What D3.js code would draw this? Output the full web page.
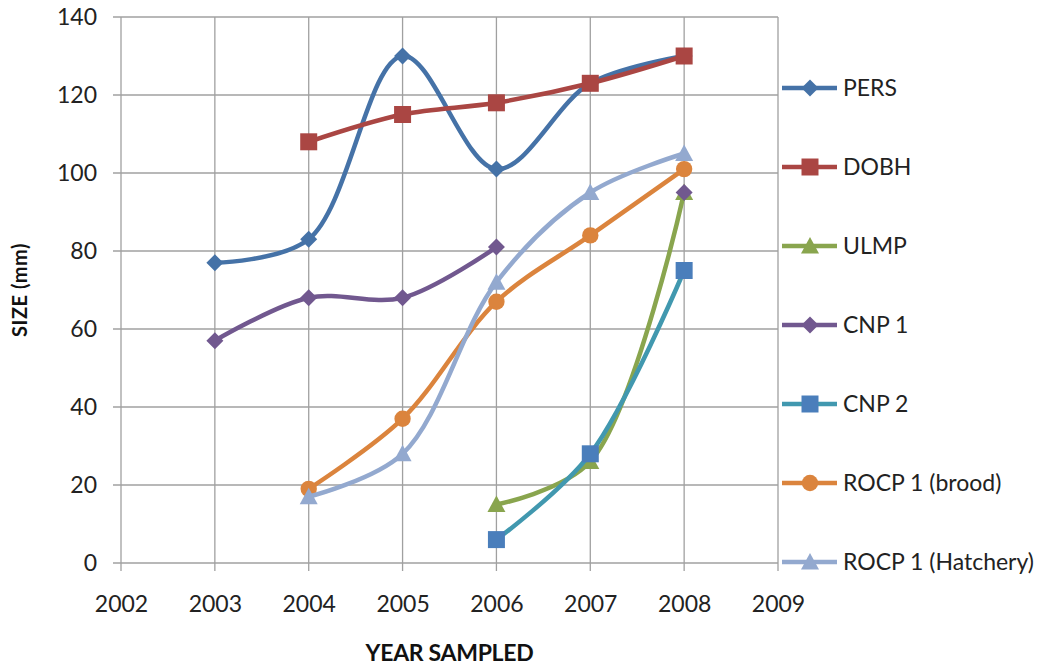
<!DOCTYPE html>
<html>
<head>
<meta charset="utf-8">
<script src="https://cdn.jsdelivr.net/npm/d3@7"></script>
<style>
  html, body { margin: 0; padding: 0; background: #fff; }
  svg { display: block; font-family: Lato, "Open Sans", sans-serif; }
</style>
</head>
<body>
<svg id="chart" width="1042" height="668"></svg>
<script>
// Sample years and sizes (mm) per site; null = not sampled
const years = [2003, 2004, 2005, 2006, 2007, 2008];
const pers      = [77, 83, 130, 101, 123, 130];
const dobh      = [null, 108, 115, 118, 123, 130];
const ulmp      = [null, null, null, 15, 26, 95];
const cnp1      = [57, 68, 68, 81, null, 95];
const cnp2      = [null, null, null, 6, 28, 75];
const rocpBrood = [null, 19, 37, 67, 84, 101];
const rocpHatch = [null, 17, 28, 72, 95, 105];

const xTicks = [2002, 2003, 2004, 2005, 2006, 2007, 2008, 2009];
const yTicks = [0, 20, 40, 60, 80, 100, 120, 140];

const series = [
  { name: "PERS",               values: pers,      line: "#4572A7", fill: "#4572A7", shape: "diamond" },
  { name: "DOBH",               values: dobh,      line: "#AA4643", fill: "#AA4643", shape: "square" },
  { name: "ULMP",               values: ulmp,      line: "#89A54E", fill: "#89A54E", shape: "triangle" },
  { name: "CNP 1",              values: cnp1,      line: "#71588F", fill: "#71588F", shape: "diamond" },
  { name: "CNP 2",              values: cnp2,      line: "#4198AF", fill: "#4A7EBB", shape: "square" },
  { name: "ROCP 1 (brood)",     values: rocpBrood, line: "#DB843D", fill: "#DB843D", shape: "circle" },
  { name: "ROCP 1 (Hatchery)",  values: rocpHatch, line: "#93A9CF", fill: "#93A9CF", shape: "triangle" }
];

const svg = d3.select("#chart");
const plot = { left: 121, right: 778, top: 17, bottom: 563 };

const x = d3.scaleLinear().domain([2002, 2009]).range([plot.left, plot.right]);
const y = d3.scaleLinear().domain([0, 140]).range([plot.bottom, plot.top]);

const gridColor = "#a0a0a0";

// Gridlines (with short tick stubs past the axes)
const grid = svg.append("g");
grid.selectAll("line.h").data(yTicks).join("line")
  .attr("x1", plot.left - 8).attr("x2", plot.right)
  .attr("y1", d => y(d)).attr("y2", d => y(d))
  .attr("stroke", gridColor).attr("stroke-width", 1.3);
grid.selectAll("line.v").data(xTicks).join("line")
  .attr("x1", d => x(d)).attr("x2", d => x(d))
  .attr("y1", plot.top).attr("y2", plot.bottom + 8)
  .attr("stroke", gridColor).attr("stroke-width", 1.3);

// Axis labels (axis lines come from the grid)
const yAxis = svg.append("g")
  .attr("transform", `translate(${plot.left - 8},0)`)
  .call(d3.axisLeft(y).tickValues(yTicks).tickSize(0).tickPadding(16));
yAxis.select(".domain").remove();
yAxis.selectAll("text").attr("font-size", 23).attr("fill", "#222")
  .attr("font-family", "Lato, sans-serif");

const xAxis = svg.append("g")
  .attr("transform", `translate(0,${plot.bottom + 8})`)
  .call(d3.axisBottom(x).tickValues(xTicks).tickFormat(d3.format("d")).tickSize(0).tickPadding(25));
xAxis.select(".domain").remove();
xAxis.selectAll("text").attr("font-size", 23).attr("fill", "#222")
  .attr("font-family", "Lato, sans-serif");

// Axis titles
svg.append("text")
  .attr("x", (plot.left + plot.right) / 2).attr("y", 661)
  .attr("text-anchor", "middle").attr("font-weight", "bold")
  .attr("font-size", 23).attr("fill", "#111")
  .attr("letter-spacing", -0.3)
  .text("YEAR SAMPLED");
svg.append("text")
  .attr("transform", `translate(27,${(plot.top + plot.bottom) / 2}) rotate(-90)`)
  .attr("text-anchor", "middle").attr("font-weight", "bold")
  .attr("font-size", 20).attr("fill", "#111")
  .attr("letter-spacing", 0.5)
  .text("SIZE (mm)");

// Marker shapes
function markerPath(shape) {
  switch (shape) {
    case "diamond":  return "M0,-8.5L8.5,0L0,8.5L-8.5,0Z";
    case "square":   return "M-8.5,-8.5H8.5V8.5H-8.5Z";
    case "triangle": return "M0,-9L9,7.5H-9Z";
    default:         return d3.symbol(d3.symbolCircle, 210)();
  }
}

const line = d3.line()
  .defined(d => d.v != null)
  .x(d => x(d.year))
  .y(d => y(d.v))
  .curve(d3.curveCatmullRom.alpha(0.5));

const marks = svg.append("g");
series.forEach(s => {
  const pts = years.map((yr, i) => ({ year: yr, v: s.values[i] }));
  marks.append("path")
    .attr("d", line(pts))
    .attr("fill", "none")
    .attr("stroke", s.line)
    .attr("stroke-width", 4.5)
    .attr("stroke-linejoin", "round")
    .attr("stroke-linecap", "round");
  marks.append("g").selectAll("path")
    .data(pts.filter(d => d.v != null))
    .join("path")
    .attr("transform", d => `translate(${x(d.year)},${y(d.v)})`)
    .attr("d", markerPath(s.shape))
    .attr("fill", s.fill);
});

// Legend
const legend = svg.append("g");
const legendTop = 88, legendStep = 79;
series.forEach((s, i) => {
  const g = legend.append("g").attr("transform", `translate(782,${legendTop + i * legendStep})`);
  g.append("line").attr("x1", 0).attr("x2", 55).attr("y1", 0).attr("y2", 0)
    .attr("stroke", s.line).attr("stroke-width", 4.5);
  g.append("path").attr("transform", "translate(28,0)")
    .attr("d", markerPath(s.shape)).attr("fill", s.fill);
  g.append("text").attr("x", 61).attr("y", 0).attr("dy", "0.36em")
    .attr("font-size", 23).attr("fill", "#222")
    .text(s.name);
});
</script>
</body>
</html>
